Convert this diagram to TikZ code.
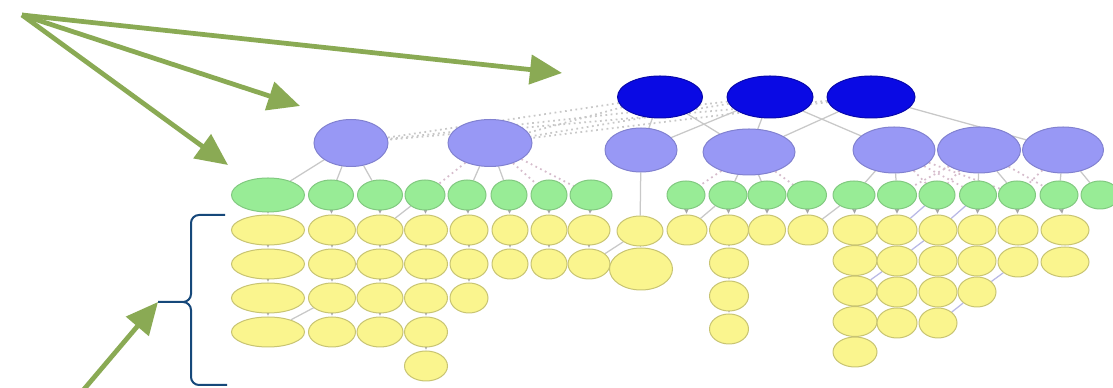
\documentclass[tikz,border=0pt]{standalone}
\usepackage{tikz}
\usetikzlibrary{arrows,arrows.meta,positioning,shapes.geometric}
\definecolor{topblue}{RGB}{10,10,228}
\definecolor{groupviolet}{RGB}{152,152,245}
\definecolor{topicgreen}{RGB}{152,236,150}
\definecolor{itemyellow}{RGB}{250,245,142}
\definecolor{pointergreen}{RGB}{138,170,84}
\definecolor{bracenavy}{RGB}{22,72,122}
\definecolor{linkgray}{RGB}{200,200,200}
\definecolor{linkpink}{RGB}{214,188,204}
\definecolor{linkviolet}{RGB}{185,185,230}
\pgfdeclarelayer{background}
\pgfsetlayers{background,main}
% x / width / rows / row step
\newcommand{\itemcols}{268/73/4/34, 332/47/4/34, 380/46/4/34, 426/43/5/34,
    469/38/3/34, 510/36/2/34, 549/36/2/34, 589/42/2/34, 687/40/1/31,
    729/39/4/33, 767/37/1/31, 808/40/1/31, 855/44/5/30.5, 897/40/4/31,
    938/38/4/31, 977/38/3/31, 1018/40/2/32, 1065/48/2/32}

\begin{document}
\begin{tikzpicture}[x=0.2mm, y=-0.2mm,
    toplevel/.style={ellipse, fill=topblue, draw=topblue!75!black, line width=0.2mm},
    grouplevel/.style={ellipse, fill=groupviolet, draw=groupviolet!85!black, line width=0.2mm},
    topiclevel/.style={ellipse, fill=topicgreen, draw=topicgreen!85!black, line width=0.2mm},
    itemlevel/.style={ellipse, fill=itemyellow, draw=itemyellow!80!black, line width=0.2mm},
    link/.style={linkgray, line width=0.25mm},
    hint/.style={linkgray, dotted, line width=0.35mm},
    pinkhint/.style={linkpink, dotted, line width=0.35mm},
    step link/.style={->, >=stealth, shorten >=0.5pt, gray!70, line width=0.2mm},
    pointer/.style={pointergreen, line width=0.95mm, -{Triangle[length=6.4mm, width=5.8mm]}}]

        \useasboundingbox (0,0) rectangle (1113,388);
        \begin{pgfonlayer}{background}
        \fill[white] (0,0) rectangle (1113,388);
        \end{pgfonlayer}

        % Top layer
        \foreach \x/\w [count=\i] in {660/85, 770/86, 871/88}
        {
            \node[toplevel, minimum width=\w*0.2mm, minimum height=42*0.2mm] (Top-\i) at (\x,97) {};
        }

        % Group layer
        \foreach \x/\y/\w/\h [count=\i] in {351/143/74/47, 490/143/84/47, 641/150/72/44,
            749/152/92/46, 894/150/82/46, 979/150/83/46, 1063/150/81/46}
        {
            \node[grouplevel, minimum width=\w*0.2mm, minimum height=\h*0.2mm] (Group-\i) at (\x,\y) {};
        }

        % Topic layer
        \foreach \x/\w/\h [count=\i] in {268/73/34, 331/45/30, 380/45/30, 425/40/30, 467/38/30,
            509/36/30, 549/36/30, 591/42/30, 686/38/28, 728/38/28, 767/38/28, 807/39/28,
            854/42/28, 897/39/28, 937/36/28, 978/37/28, 1017/37/28, 1059/38/28, 1100/38/28}
        {
            \node[topiclevel, minimum width=\w*0.2mm, minimum height=\h*0.2mm] (Topic-\i) at (\x,195) {};
        }

        % Item layer
        \foreach \x/\w/\n/\d [count=\i] in \itemcols
        {
            \foreach \r in {1,...,\n}
            {
                \node[itemlevel, minimum width=\w*0.2mm, minimum height=30*0.2mm] (Item-\i-\r) at (\x,{230+(\r-1)*\d}) {};
            }
        }
        \node[itemlevel, minimum width=46*0.2mm, minimum height=30*0.2mm] (Lone-1) at (640,231) {};
        \node[itemlevel, minimum width=63*0.2mm, minimum height=42*0.2mm] (Lone-2) at (641,269) {};

        \begin{pgfonlayer}{background}
        % Connect Top-Group
        \foreach \i/\j in {1/3, 1/4, 2/3, 2/4, 2/5, 3/4, 3/7}
        {
            \draw[link] (Top-\i) -- (Group-\j);
        }
        \foreach \i in {1,2,3}
        {
            \foreach \j in {1,2}
            {
                \draw[hint] (Top-\i) -- (Group-\j);
            }
        }

        % Connect Group-Topic
        \foreach \i/\j in {1/1, 1/2, 1/3, 2/5, 2/6, 4/10, 4/11, 5/13, 5/14, 6/16, 6/17, 7/18, 7/19}
        {
            \draw[link] (Group-\i) -- (Topic-\j);
        }
        \foreach \i/\j in {2/4, 2/7, 2/8, 4/9, 4/12, 5/15, 5/16, 5/17, 6/14, 6/15, 6/18, 7/17}
        {
            \draw[pinkhint] (Group-\i) -- (Topic-\j);
        }
        \draw[link] (Group-3) -- (Lone-1);

        % Connect Topic-Item
        \foreach \i in {1,...,18}
        {
            \draw[step link] (Topic-\i) -- (Item-\i-1);
        }
        \foreach \x/\w/\n/\d [count=\i] in \itemcols
        {
            \ifnum\n>1
                \foreach \r in {2,...,\n}
                {
                    \pgfmathtruncatemacro{\p}{\r-1}
                    \draw[step link] (Item-\i-\p) -- (Item-\i-\r);
                }
            \fi
        }
        \draw[step link] (Lone-1) -- (Lone-2);

        % Cross links
        \foreach \a/\b in {Item-3-1/Topic-4, Item-2-2/Item-3-2, Item-1-4/Item-2-3,
            Item-8-2/Lone-1, Item-9-1/Topic-10, Item-12-1/Topic-13}
        {
            \draw[link] (\a) -- (\b);
        }
        \foreach \a/\b in {Topic-16/Item-15-1, Item-15-1/Item-14-2, Item-16-3/Item-15-4,
            Item-17-2/Item-16-3, Topic-15/Item-14-1, Item-14-2/Item-13-3}
        {
            \draw[linkviolet, line width=0.25mm] (\a) -- (\b);
        }
        \end{pgfonlayer}

        % Brace
        \coordinate (Brace-tip) at (158,302);
        \draw[bracenavy, line width=0.4mm] (225,215) -- (199,215) to[out=180,in=90] (191,223)
            -- (191,294) to[out=-90,in=0] (183,302) -- (Brace-tip) -- (183,302)
            to[out=0,in=90] (191,310) -- (191,377) to[out=-90,in=180] (199,385) -- (227,385);

        % Pointers
        \coordinate (Origin) at (22,15);
        \coordinate (Aim-1) at (562,73);
        \coordinate (Aim-2) at (300,106);
        \coordinate (Aim-3) at (228,165);
        \coordinate (Tail) at (80,394);
        \foreach \i in {1,2,3}
        {
            \draw[pointer] (Origin) -- (Aim-\i);
        }
        \draw[pointer] (Tail) -- (Brace-tip);

\end{tikzpicture}
\end{document}
